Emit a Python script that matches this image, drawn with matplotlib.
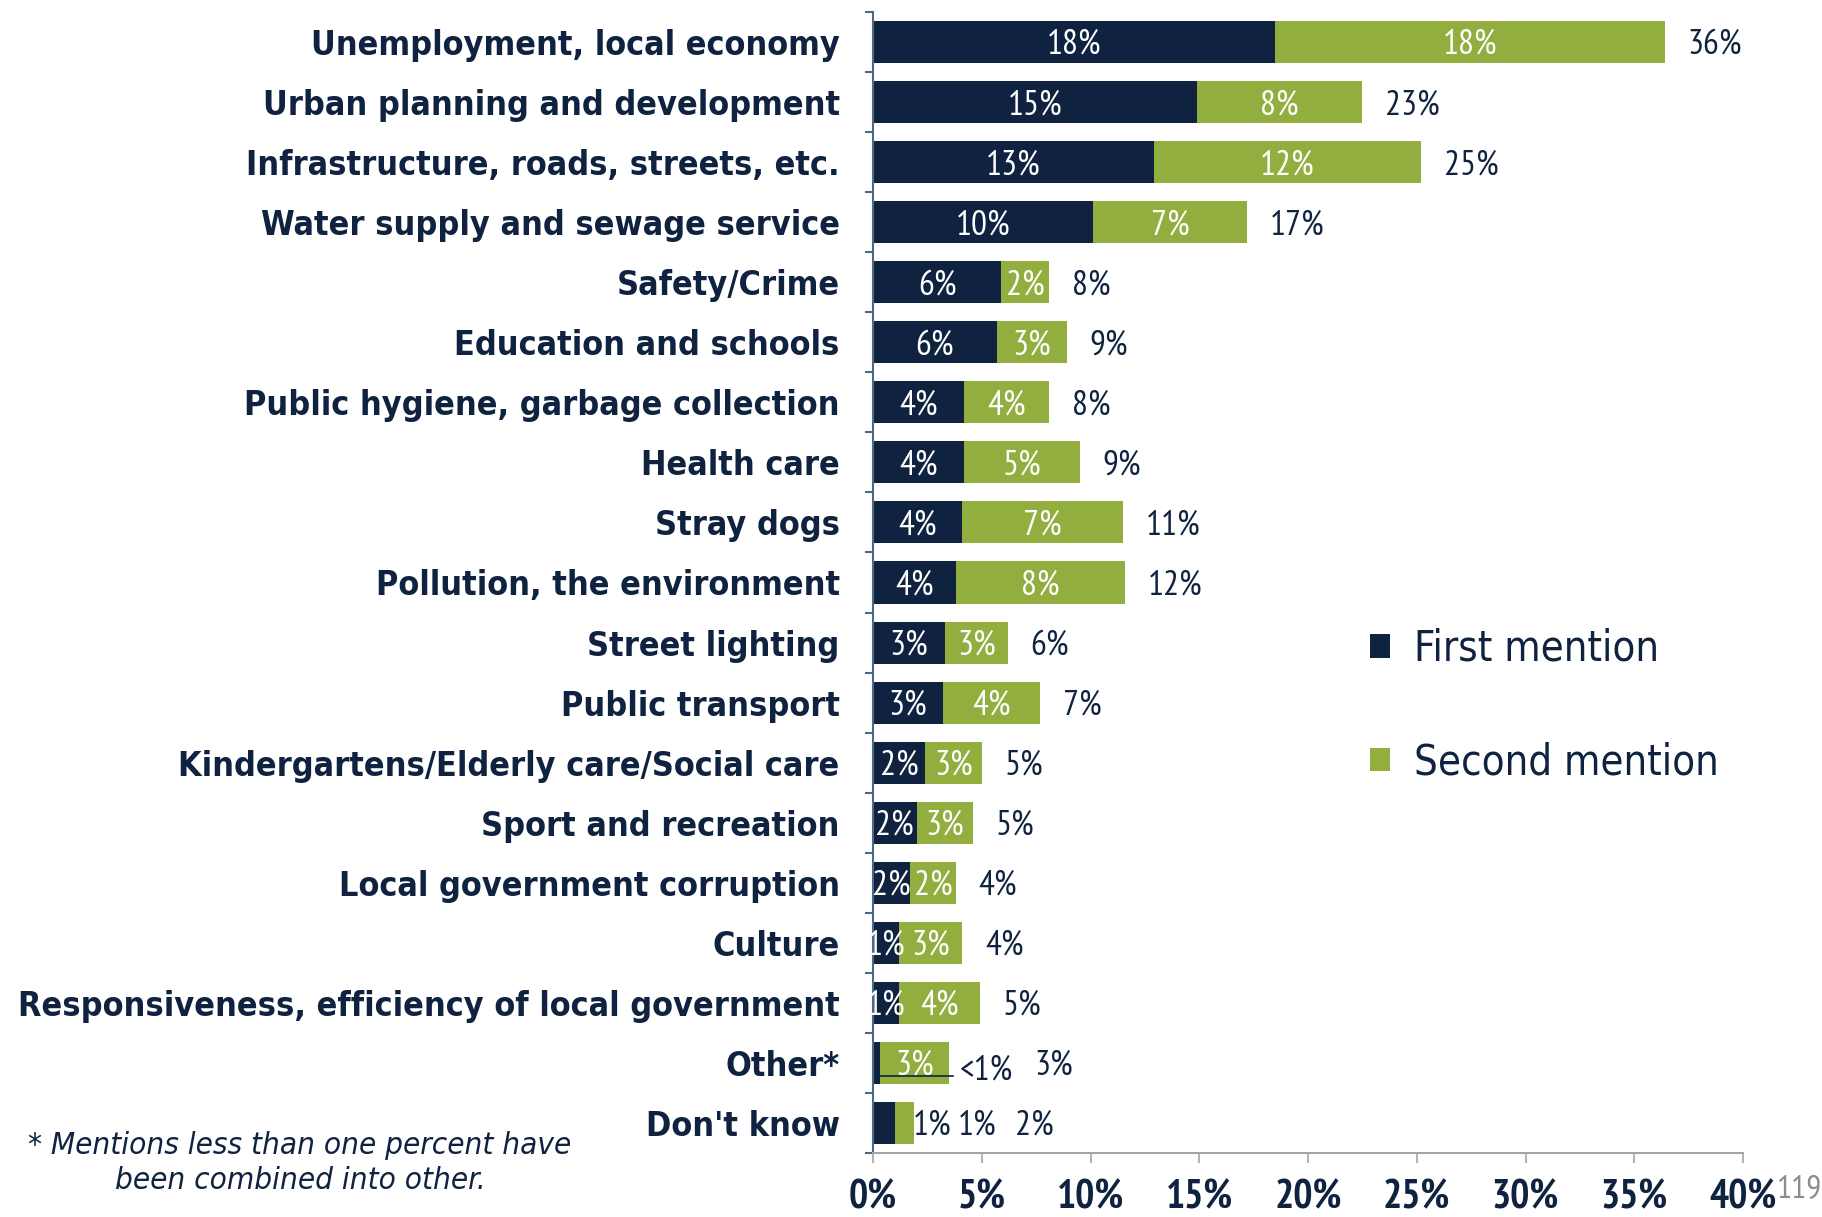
import matplotlib
matplotlib.use("Agg")
import matplotlib.pyplot as plt
from matplotlib.patches import Patch
from matplotlib.ticker import FixedLocator
from matplotlib.font_manager import FontProperties

categories = [
    "Unemployment, local economy",
    "Urban planning and development",
    "Infrastructure, roads, streets, etc.",
    "Water supply and sewage service",
    "Safety/Crime",
    "Education and schools",
    "Public hygiene, garbage collection",
    "Health care",
    "Stray dogs",
    "Pollution, the environment",
    "Street lighting",
    "Public transport",
    "Kindergartens/Elderly care/Social care",
    "Sport and recreation",
    "Local government corruption",
    "Culture",
    "Responsiveness, efficiency of local government",
    "Other*",
    "Don't know",
]
first_mention = [18.5, 14.9, 12.9, 10.1, 5.9, 5.7, 4.2, 4.2, 4.1, 3.8,
                 3.3, 3.2, 2.4, 2.0, 1.7, 1.2, 1.2, 0.3, 1.0]
second_mention = [17.9, 7.6, 12.3, 7.1, 2.2, 3.2, 3.9, 5.3, 7.4, 7.8,
                  2.9, 4.5, 2.6, 2.6, 2.1, 2.9, 3.7, 3.2, 0.9]
first_labels = ["18%", "15%", "13%", "10%", "6%", "6%", "4%", "4%", "4%", "4%",
                "3%", "3%", "2%", "2%", "2%", "1%", "1%", "<1%", "1%"]
second_labels = ["18%", "8%", "12%", "7%", "2%", "3%", "4%", "5%", "7%", "8%",
                 "3%", "4%", "3%", "3%", "2%", "3%", "4%", "3%", "1%"]
total_labels = ["36%", "23%", "25%", "17%", "8%", "9%", "8%", "9%", "11%", "12%",
                "6%", "7%", "5%", "5%", "4%", "4%", "5%", "3%", "2%"]
x_ticks = [0, 5, 10, 15, 20, 25, 30, 35, 40]
x_tick_labels = ["0%", "5%", "10%", "15%", "20%", "25%", "30%", "35%", "40%"]
legend_labels = ["First mention", "Second mention"]
footnote = "* Mentions less than one percent have\nbeen combined into other."
page_number = "119"

NAVY = "#0F2340"
GREEN = "#91AE3E"

fp_cat = FontProperties(family="DejaVu Sans", weight="bold", stretch="condensed", size=24.5)
fp_num = FontProperties(family="PT Sans Narrow", weight="normal", size=25.5)
fp_tick = FontProperties(family="PT Sans Narrow", weight="bold", size=29)
fp_leg = FontProperties(family="DejaVu Sans", weight="normal", stretch="condensed", size=30)
fp_note = FontProperties(family="DejaVu Sans", style="oblique", stretch="condensed", size=22.5)
fp_page = FontProperties(family="PT Sans Narrow", size=24)

W, H = 1822, 1217
fig = plt.figure(figsize=(W / 100, H / 100), dpi=100)
ax = fig.add_axes([873 / W, 1 - 1153 / H, 870 / W, 1141 / H])

y = list(range(len(categories)))
ax.barh(y, first_mention, height=0.7, color=NAVY, label=legend_labels[0])
ax.barh(y, second_mention, left=first_mention, height=0.7, color=GREEN,
        label=legend_labels[1])

ax.set_xlim(0, 40)
ax.set_ylim(len(categories) - 0.5, -0.5)

DY = 0.05
n = len(categories)
for i in range(n):
    f, s = first_mention[i], second_mention[i]
    tot = f + s
    yy = i + DY
    if i == n - 2:  # Other*
        ax.text(f + s / 2, yy, second_labels[i], color="white", ha="center",
                va="center", fontproperties=fp_num)
        ax.text(tot + 1.7, yy + 0.08, first_labels[i], color=NAVY, ha="center",
                va="center", fontproperties=fp_num)
        ax.text(tot + 4.8, yy, total_labels[i], color=NAVY, ha="center",
                va="center", fontproperties=fp_num)
        ax.plot([0.2, 3.7], [i + 0.21, i + 0.21], color=NAVY, lw=1.2)
    elif i == n - 1:  # Don't know
        ax.text(tot + 0.8, yy, first_labels[i], color=NAVY, ha="center",
                va="center", fontproperties=fp_num)
        ax.text(tot + 2.9, yy, second_labels[i], color=NAVY, ha="center",
                va="center", fontproperties=fp_num)
        ax.text(tot + 5.5, yy, total_labels[i], color=NAVY, ha="center",
                va="center", fontproperties=fp_num)
    else:
        ax.text(f / 2, yy, first_labels[i], color="white", ha="center",
                va="center", fontproperties=fp_num)
        ax.text(f + s / 2, yy, second_labels[i], color="white", ha="center",
                va="center", fontproperties=fp_num)
        ax.text(tot + 1.05, yy, total_labels[i], color=NAVY, ha="left",
                va="center", fontproperties=fp_num)

# axes styling
for sp in ["top", "right"]:
    ax.spines[sp].set_visible(False)
ax.spines["left"].set_color("#4A6A85")
ax.spines["left"].set_linewidth(1.5)
ax.spines["bottom"].set_color("#A6A6A6")
ax.spines["bottom"].set_linewidth(1.5)

ax.set_yticks(y)
ax.set_yticklabels(categories, color=NAVY, fontproperties=fp_cat)
ax.yaxis.set_minor_locator(FixedLocator([k - 0.5 for k in range(n + 1)]))
ax.tick_params(axis="y", which="major", length=0, pad=24)
ax.tick_params(axis="y", which="minor", length=6, width=1.5, color="#4A6A85")

ax.set_xticks(x_ticks)
ax.set_xticklabels(x_tick_labels, color=NAVY, fontproperties=fp_tick)
ax.tick_params(axis="x", which="major", length=7, width=1.2, color="#A6A6A6",
               pad=12)

# legend
handles = [Patch(facecolor=NAVY, edgecolor="none"),
           Patch(facecolor=GREEN, edgecolor="none")]
fig.legend(handles, legend_labels, loc="upper left",
           bbox_to_anchor=(1332 / W, 1 - 590 / H), frameon=False,
           handlelength=0.5, handleheight=0.5, handletextpad=0.58,
           labelspacing=1.72, prop=fp_leg, labelcolor=NAVY)

fig.text(300 / W, 1 - 1163 / H, footnote, ha="center", va="center",
         color=NAVY, fontproperties=fp_note, linespacing=1.3)
fig.text(1821 / W, 1 - 1190 / H, page_number, ha="right", va="center",
         color="#8C8C8C", fontproperties=fp_page)

fig.savefig("out.png", dpi=100)
